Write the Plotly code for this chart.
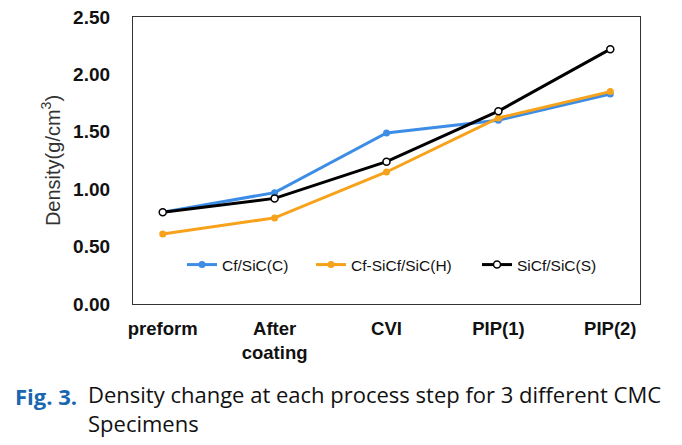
import plotly.graph_objects as go

categories = ["preform", "After<br>coating", "CVI", "PIP(1)", "PIP(2)"]
series_names = ["Cf/SiC(C)", "Cf-SiCf/SiC(H)", "SiCf/SiC(S)"]
cf_sic_c = [0.80, 0.97, 1.49, 1.60, 1.83]
cf_sicf_sic_h = [0.61, 0.75, 1.15, 1.62, 1.85]
sicf_sic_s = [0.80, 0.92, 1.24, 1.68, 2.22]
y_ticks = [0.0, 0.5, 1.0, 1.5, 2.0, 2.5]
y_tick_labels = ["0.00", "0.50", "1.00", "1.50", "2.00", "2.50"]

# page body adds an ~8px offset, so the figure is a bit smaller
OFF = 8
W, H = 682 - OFF, 445 - OFF
L, R, T, B = 133 - OFF, 42, 17 - OFF, 141
PW, PH = W - L - R, H - T - B
def px(x):
    return (x - OFF - L) / PW
def py(y):
    return (H - B - (y - OFF)) / PH

fig = go.Figure()
fig.add_trace(go.Scatter(x=categories, y=cf_sic_c, name=series_names[0], mode="lines+markers",
                         line=dict(color="#3d8de6", width=3), legend="legend", showlegend=True,
                         marker=dict(size=7, color="#3d8de6", symbol="circle")))
fig.add_trace(go.Scatter(x=categories, y=cf_sicf_sic_h, name=series_names[1], mode="lines+markers",
                         line=dict(color="#f7a21b", width=3), legend="legend2", showlegend=True,
                         marker=dict(size=7, color="#f7a21b", symbol="circle")))
fig.add_trace(go.Scatter(x=categories, y=sicf_sic_s, name=series_names[2], mode="lines+markers",
                         line=dict(color="#000000", width=3), legend="legend3", showlegend=True,
                         marker=dict(size=7, color="white", symbol="circle",
                                     line=dict(color="black", width=1.5))))

def leg(xpix):
    return dict(orientation="h", x=px(xpix), y=py(265), xanchor="left", yanchor="middle",
                bgcolor="rgba(0,0,0,0)", font=dict(size=15.5, family="Liberation Sans", color="#111"),
                itemwidth=30, borderwidth=0, visible=True)

fig.update_layout(
    width=W, height=H,
    showlegend=True,
    margin=dict(l=L, r=R, t=T, b=B),
    paper_bgcolor="white", plot_bgcolor="white",
    font=dict(family="Liberation Sans, Arial", color="#111"),
    legend=leg(182), legend2=leg(311), legend3=leg(477),
    xaxis=dict(showline=True, mirror=True, linecolor="#333", linewidth=1.2, automargin=False,
               showgrid=False, ticks="",
               tickfont=dict(size=18.5, family="Liberation Sans", color="#111", weight="bold"),
               ticklabelstandoff=8),
    yaxis=dict(range=[0, 2.5], tickvals=y_ticks, ticktext=y_tick_labels, automargin=False,
               showline=True, mirror=True, linecolor="#333", linewidth=1.2,
               showgrid=False, ticks="", zeroline=False, ticklabeloverflow="allow",
               tickfont=dict(size=19, family="Liberation Sans", color="#111", weight="bold"),
               ticklabelstandoff=18,
               title=dict(text="Density(g/cm<sup>3</sup>)", font=dict(size=20, color="#333"), standoff=7)),
)

cap_font = "Open Sans, Noto Sans"
fig.add_annotation(xref="paper", yref="paper", x=px(13), y=py(396),
                   xanchor="left", yanchor="middle", showarrow=False,
                   text="<b>Fig. 3.</b>", font=dict(size=22, family=cap_font, color="#1a66b0"))
fig.add_annotation(xref="paper", yref="paper", x=px(86), y=py(377),
                   xanchor="left", yanchor="top", showarrow=False, align="left",
                   text="Density change at each process step for 3 different CMC<br>Specimens",
                   font=dict(size=22, family=cap_font, color="#111"))

fig.write_html("out.html")
